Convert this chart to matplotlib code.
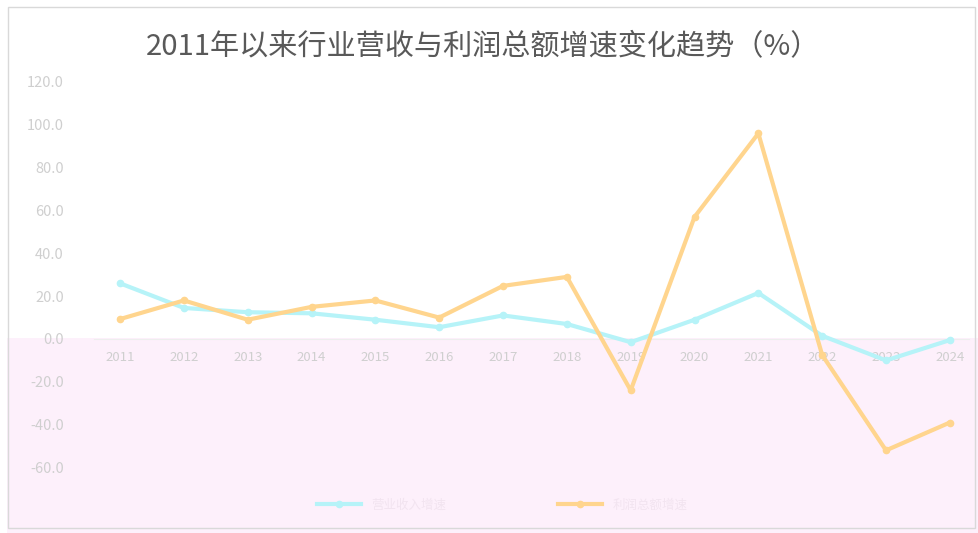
import matplotlib
matplotlib.use('Agg')
import numpy as np
import matplotlib.pyplot as plt
from matplotlib.patches import Rectangle

plt.rcParams['font.family'] = ['Noto Sans CJK SC', 'DejaVu Sans']

# data
years = ['2011', '2012', '2013', '2014', '2015', '2016', '2017',
         '2018', '2019', '2020', '2021', '2022', '2023', '2024']
revenue_growth = [26.0, 14.5, 12.5, 12.0, 9.0, 5.5, 11.0,
                  7.0, -1.5, 9.0, 21.5, 1.5, -10.0, -0.5]
profit_growth = [9.3, 18.0, 9.0, 15.0, 18.0, 10.0, 24.8,
                 29.0, -24.0, 57.0, 96.0, -7.5, -52.0, -39.0]
series_names = ['营业收入增速', '利润总额增速']

fig = plt.figure(figsize=(9.79, 5.33), dpi=100)

# faint pink tint over the lower part, as in the reference
fig.add_artist(Rectangle((7 / 979, 0), 972 / 979, 1 - 338 / 533,
                         transform=fig.transFigure, facecolor='#fdf0fb',
                         edgecolor='none', zorder=0))
# chart frame
fig.add_artist(Rectangle((8 / 979, 5 / 533), 967 / 979, 521 / 533,
                         transform=fig.transFigure, facecolor='none',
                         edgecolor='#d9d9d9', lw=1, zorder=1))

ax = fig.add_axes([94.5 / 979, 1 - 467.5 / 533, (969 - 94.5) / 979, (467.5 - 82) / 533])
ax.patch.set_alpha(0)

x = np.arange(len(years))
ax.plot(x, revenue_growth, color='#b6f3f8', lw=3, marker='o', ms=4.5,
        label=series_names[0], zorder=3)
ax.plot(x, profit_growth, color='#ffd58e', lw=3, marker='o', ms=4.5,
        label=series_names[1], zorder=4)

ax.set_xlim(-0.4, 13.3)
ax.set_ylim(-60, 120)
ax.set_yticks(np.arange(-60, 121, 20))
ax.set_yticklabels(['{:.1f}'.format(v) for v in np.arange(-60, 121, 20)])
ax.set_xticks(x)
ax.set_xticklabels(years)

for s in ['top', 'right', 'left']:
    ax.spines[s].set_visible(False)
ax.spines['bottom'].set_position(('data', 0))
ax.spines['bottom'].set_color('#eeeeee')
ax.tick_params(axis='both', length=0, colors='#cfcfcf')
ax.tick_params(axis='y', labelsize=10.5, pad=22)
ax.tick_params(axis='x', labelsize=9.5, pad=9)

fig.text(0.493, 0.913, '2011年以来行业营收与利润总额增速变化趋势（%）',
         ha='center', va='center', fontsize=21, color='#595959')

leg = fig.legend(loc='center', bbox_to_anchor=(0.513, 0.052), ncol=2,
                 frameon=False, fontsize=9, handlelength=3.5, columnspacing=9,
                 labelcolor='#f2e4f0')

fig.savefig('out.png', dpi=100)
